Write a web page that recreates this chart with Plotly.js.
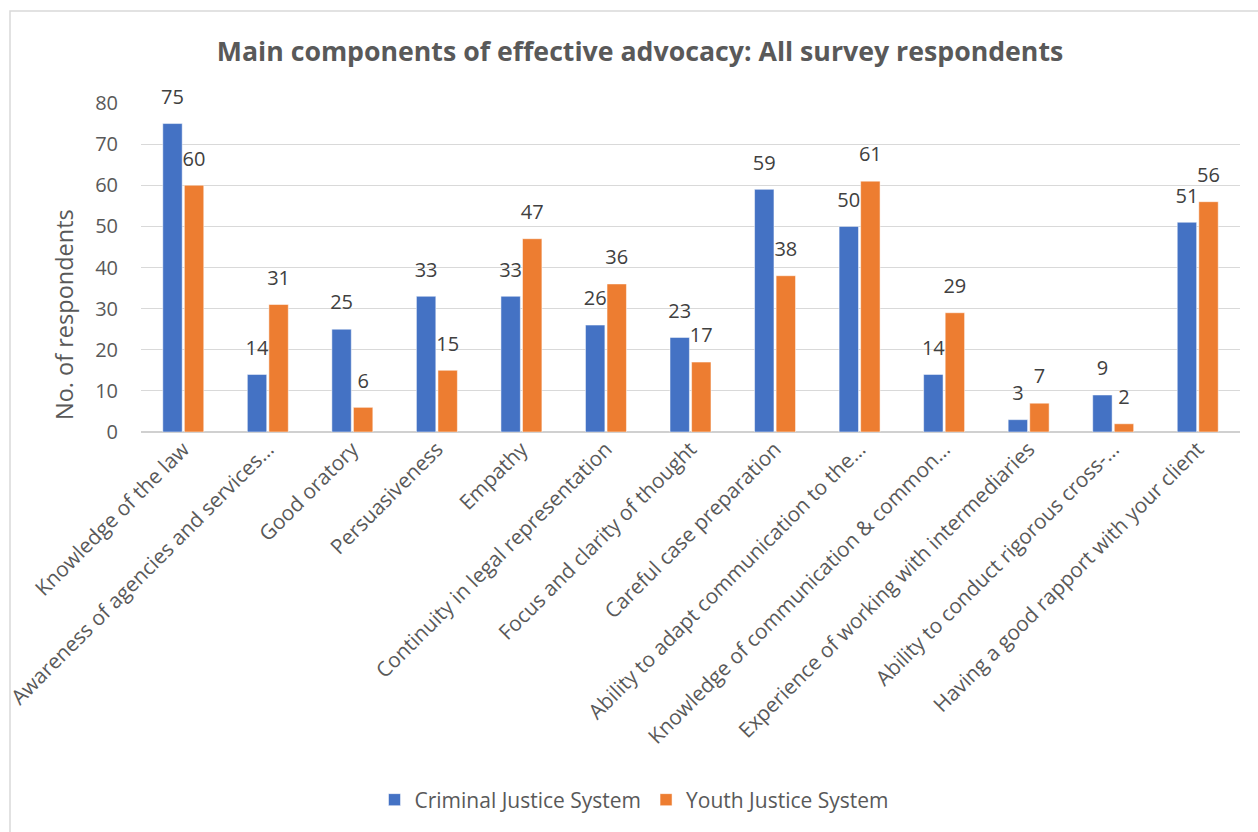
<!DOCTYPE html>
<html>
<head>
<meta charset="utf-8">
<script src="https://cdn.plot.ly/plotly-3.0.1.min.js"></script>
<style>html,body{margin:0;padding:0;background:#fff;}#chart{width:1258px;height:832px;}</style>
</head>
<body>
<div id="chart"></div>
<script>
const categories = [
  "Knowledge of the law",
  "Awareness of agencies and services…",
  "Good oratory",
  "Persuasiveness",
  "Empathy",
  "Continuity in legal representation",
  "Focus and clarity of thought",
  "Careful case preparation",
  "Ability to adapt communication to the…",
  "Knowledge of communication & common…",
  "Experience of working with intermediaries",
  "Ability to conduct rigorous cross-…",
  "Having a good rapport with your client"
];
const criminalJustice = [75, 14, 25, 33, 33, 26, 23, 59, 50, 14, 3, 9, 51];
const youthJustice = [60, 31, 6, 15, 47, 36, 17, 38, 61, 29, 7, 2, 56];
const seriesNames = ["Criminal Justice System", "Youth Justice System"];
const yTicks = [0, 10, 20, 30, 40, 50, 60, 70, 80];

const FONT = "'Open Sans', 'Noto Sans', sans-serif";
const L = 141, R = 1240, T = 103, B = 432, W = 1258, H = 832;
const px = x => (x - L) / (R - L);
const py = y => (B - y) / (B - T);

const bar = (vals, name, color) => ({
  type: 'bar', x: categories, y: vals, name: name,
  marker: {color: color, line: {color: '#ffffff', width: 0.5}},
  hoverinfo: 'x+y+name'
});
const lbl = (vals, name) => ({
  type: 'scatter', mode: 'markers+text', x: categories, y: vals, name: name,
  text: vals.map(String), textposition: 'top center', cliponaxis: false,
  marker: {size: 22, opacity: 0, color: '#ffffff'},
  textfont: {family: FONT, size: 20, color: '#404040'},
  showlegend: false, hoverinfo: 'skip'
});

const data = [
  bar(criminalJustice, seriesNames[0], '#4472C4'),
  bar(youthJustice, seriesNames[1], '#ED7D31'),
  lbl(criminalJustice, seriesNames[0] + ' labels'),
  lbl(youthJustice, seriesNames[1] + ' labels')
];

const layout = {
  width: W, height: H,
  margin: {l: L, r: W - R, t: T, b: H - B, autoexpand: false},
  paper_bgcolor: '#ffffff', plot_bgcolor: '#ffffff',
  font: {family: FONT, color: '#595959'},
  title: {text: '<b>Main components of effective advocacy: All survey respondents</b>',
          font: {family: FONT, size: 26.7, color: '#595959'},
          x: px(640), xanchor: 'center', xref: 'paper', y: 1 - 52 / H, yanchor: 'middle'},
  barmode: 'group', bargap: 0.49, bargroupgap: 0.1,
  scattermode: 'group', scattergap: 0.49,
  xaxis: {tickangle: -45, automargin: false, showgrid: false, showline: false,
          ticks: '', tickfont: {family: FONT, size: 20.8, color: '#595959'}, fixedrange: true},
  yaxis: {range: [0, 80], tickvals: yTicks, showgrid: true, gridcolor: '#d9d9d9', gridwidth: 1,
          zeroline: true, zerolinecolor: '#d0d0d0', zerolinewidth: 2, showline: false,
          ticks: '', ticklabelstandoff: 22,
          tickfont: {family: FONT, size: 20, color: '#595959'}, automargin: false},
  annotations: [{text: 'No. of respondents', textangle: -90, xref: 'paper', yref: 'paper',
                 x: px(64), y: py(315), xanchor: 'center', yanchor: 'middle', showarrow: false,
                 font: {family: FONT, size: 23.5, color: '#595959'}}],
  showlegend: true,
  legend: {orientation: 'h', x: px(634), xanchor: 'center', y: py(800), yanchor: 'middle',
           font: {family: FONT, size: 21, color: '#595959'}, itemwidth: 30, traceorder: 'normal'},
  shapes: [{type: 'rect', xref: 'paper', yref: 'paper', x0: px(10), x1: px(1270), y0: py(11), y1: py(845),
            line: {color: '#d9d9d9', width: 1.5}, fillcolor: 'rgba(0,0,0,0)', layer: 'below'}]
};

Plotly.newPlot('chart', data, layout, {displayModeBar: false});
</script>
</body>
</html>
